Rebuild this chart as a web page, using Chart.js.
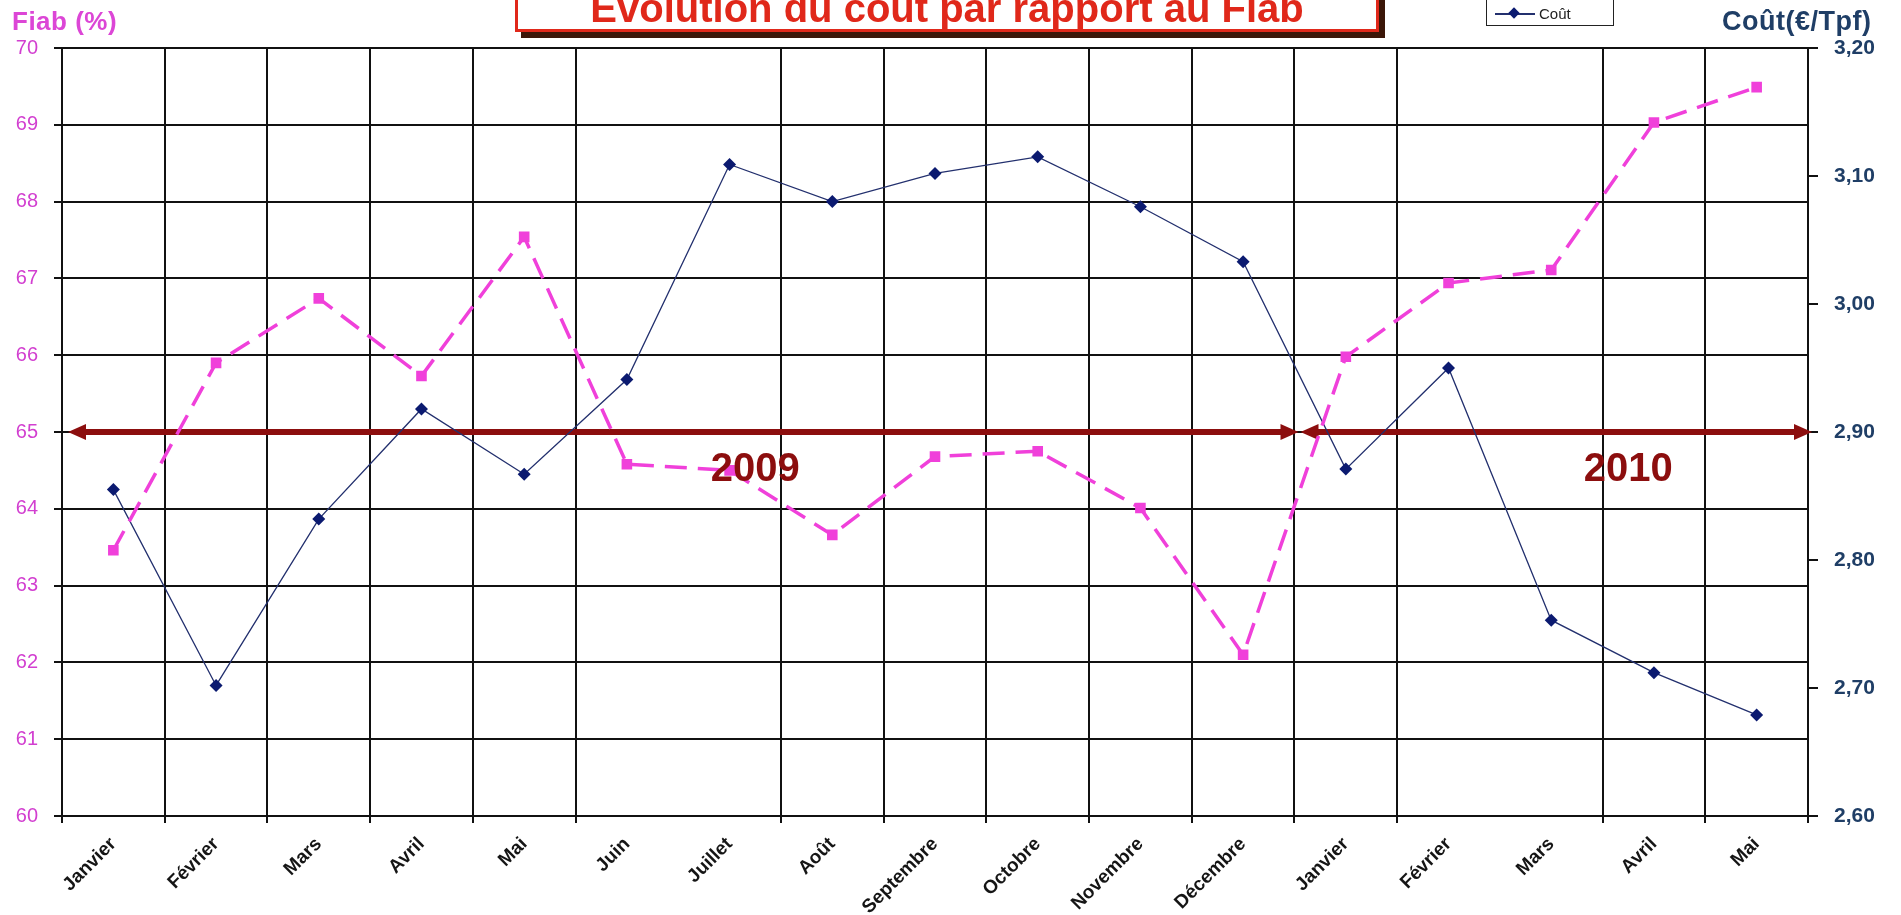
<!DOCTYPE html>
<html lang="fr">
<head>
<meta charset="utf-8">
<title>Evolution du coût par rapport au Fiab</title>
<script src="https://cdn.jsdelivr.net/npm/chart.js@4.4.1/dist/chart.umd.min.js"></script>
<style>
  html, body { margin: 0; padding: 0; background: #fff; overflow: hidden; }
  #wrap { position: relative; width: 1901px; height: 915px; overflow: hidden; font-family: Arial, "Liberation Sans", sans-serif; }
  #chart { position: absolute; left: 0; top: 0; }
  .title {
    position: absolute; left: 515px; top: -16px; width: 858px; height: 42px;
    border: 3px solid #e0281a; background: #fff; box-shadow: 6px 6px 0 #3b1608;
    color: #e0281a; font-weight: bold; font-size: 40px; line-height: 42px;
    text-align: center; white-space: nowrap;
  }
  .axis-title { position: absolute; top: 6px; font-weight: bold; white-space: nowrap; }
  #fiabTitle { left: 12px; color: #dc46d6; font-size: 26px; letter-spacing: 0.5px; }
  #coutTitle { left: 1722px; color: #1f3e66; font-size: 27px; letter-spacing: 0.5px; }
  .legend {
    position: absolute; left: 1486px; top: -14px; width: 126px; height: 38px;
    border: 1.5px solid #222; background: #fff;
  }
  .legend .line { position: absolute; left: 8px; top: 26px; width: 40px; height: 2px; background: #23306e; }
  .legend .mark { position: absolute; left: 23px; top: 22px; width: 8px; height: 8px; background: #0b1a70; transform: rotate(45deg); }
  .legend .lbl { position: absolute; left: 52px; top: 18px; font-size: 15px; color: #222; }
</style>
</head>
<body>
<div id="wrap">
  <canvas id="chart" width="1901" height="915"></canvas>
  <div class="title">Evolution du coût par rapport au Fiab</div>
  <div class="axis-title" id="fiabTitle">Fiab (%)</div>
  <div class="axis-title" id="coutTitle">Coût(€/Tpf)</div>
  <div class="legend"><span class="line"></span><span class="mark"></span><span class="lbl">Coût</span></div>
</div>
<script>
// Données
const months = ['Janvier', 'Février', 'Mars', 'Avril', 'Mai', 'Juin', 'Juillet', 'Août', 'Septembre',
  'Octobre', 'Novembre', 'Décembre', 'Janvier', 'Février', 'Mars', 'Avril', 'Mai'];
const fiab = [63.46, 65.9, 66.74, 65.73, 67.54, 64.58, 64.5, 63.66, 64.68,
  64.75, 64.01, 62.1, 65.98, 66.94, 67.11, 69.03, 69.49];
const cout = [2.855, 2.702, 2.832, 2.918, 2.867, 2.941, 3.109, 3.08, 3.102,
  3.115, 3.076, 3.033, 2.871, 2.95, 2.753, 2.712, 2.679];

// Axes
const fiabRange = [60, 70];
const fiabStep = 1;
const coutRange = [2.6, 3.2];
const coutStep = 0.1;

// Années (index des mois couverts) et niveau des flèches
const years = ['2009', '2010'];
const yearSpans = [[0, 11], [12, 16]];
const arrowLevel = 65;

const FONT = 'Arial, "Liberation Sans", sans-serif';

// ===== FLÈCHES DES ANNÉES =====
const yearArrows = {
  id: 'yearArrows',
  beforeDatasetsDraw(chart) {
    const { ctx, scales: { x, y } } = chart;
    const yy = y.getPixelForValue(arrowLevel);
    ctx.save();
    ctx.strokeStyle = '#8c0e0e';
    ctx.fillStyle = '#8c0e0e';
    ctx.lineWidth = 6;
    yearSpans.forEach(([a, b]) => {
      const x0 = x.getPixelForValue(a - 0.5) + 6;
      const x1 = x.getPixelForValue(b + 0.5) + 4;
      ctx.beginPath();
      ctx.moveTo(x0 + 12, yy);
      ctx.lineTo(x1 - 12, yy);
      ctx.stroke();
      // têtes
      ctx.beginPath();
      ctx.moveTo(x0, yy);
      ctx.lineTo(x0 + 18, yy - 8);
      ctx.lineTo(x0 + 18, yy + 8);
      ctx.closePath();
      ctx.fill();
      ctx.beginPath();
      ctx.moveTo(x1, yy);
      ctx.lineTo(x1 - 18, yy - 8);
      ctx.lineTo(x1 - 18, yy + 8);
      ctx.closePath();
      ctx.fill();
    });
    ctx.restore();
  },
  afterDatasetsDraw(chart) {
    const { ctx, scales: { x, y } } = chart;
    ctx.save();
    ctx.fillStyle = '#8c0e0e';
    ctx.font = 'bold 40px ' + FONT;
    ctx.textAlign = 'center';
    ctx.textBaseline = 'middle';
    yearSpans.forEach(([a, b], i) => {
      const mid = (a + b) / 2 + 0.75;
      ctx.fillText(years[i], x.getPixelForValue(mid), y.getPixelForValue(arrowLevel - 0.5));
    });
    ctx.restore();
  }
};

// ===== GRAPHIQUE =====
const ctx = document.getElementById('chart').getContext('2d');

new Chart(ctx, {
  type: 'line',
  data: {
    labels: months,
    datasets: [
      {
        label: 'Fiab',
        data: fiab,
        yAxisID: 'y',
        borderColor: '#f040da',
        backgroundColor: '#f040da',
        borderWidth: 3.5,
        borderDash: [22, 11],
        pointStyle: 'rect',
        pointRadius: 7.5,
        pointBorderWidth: 0,
        tension: 0
      },
      {
        label: 'Coût',
        data: cout,
        yAxisID: 'y1',
        borderColor: '#23306e',
        backgroundColor: '#0b1a70',
        borderWidth: 1.3,
        pointStyle: 'rectRot',
        pointRadius: 6.5,
        pointBorderWidth: 0,
        tension: 0
      }
    ]
  },
  options: {
    responsive: false,
    animation: false,
    devicePixelRatio: 1,
    layout: { padding: { top: 48, left: 0, right: 0, bottom: 0 }, autoPadding: false },
    plugins: {
      legend: { display: false },
      title: { display: false },
      tooltip: { enabled: false }
    },
    scales: {
      x: {
        offset: true,
        grid: {
          offset: true,
          color: c => (c.index === 6 || c.index === 14) ? 'rgba(0,0,0,0)' : '#111',
          lineWidth: 2,
          tickLength: 7
        },
        border: { display: true, color: '#111', width: 2 },
        ticks: {
          autoSkip: false,
          minRotation: 45,
          maxRotation: 45,
          padding: 10,
          color: '#151515',
          font: { family: FONT, size: 19, weight: 'bold' }
        },
        afterFit(scale) { scale.height = 99; }
      },
      y: {
        position: 'left',
        min: fiabRange[0],
        max: fiabRange[1],
        grid: { color: '#111', lineWidth: 2, tickLength: 8 },
        border: { display: true, color: '#111', width: 2 },
        ticks: {
          stepSize: fiabStep,
          padding: 16,
          color: '#d23fd0',
          font: { family: FONT, size: 20 }
        },
        afterFit(scale) { scale.width = 62; }
      },
      y1: {
        position: 'right',
        min: coutRange[0],
        max: coutRange[1],
        grid: { drawOnChartArea: false, color: '#111', lineWidth: 2, tickLength: 10 },
        border: { display: true, color: '#111', width: 2 },
        ticks: {
          stepSize: coutStep,
          padding: 16,
          color: '#1f3e66',
          font: { family: FONT, size: 21, weight: 'bold' },
          callback: v => Number(v).toFixed(2).replace('.', ',')
        },
        afterFit(scale) { scale.width = 93; }
      }
    }
  },
  plugins: [yearArrows]
});
</script>
</body>
</html>
